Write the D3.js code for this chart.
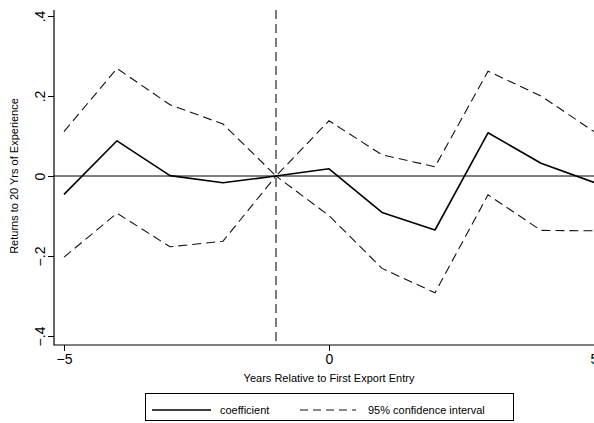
<!DOCTYPE html>
<html>
<head>
<meta charset="utf-8">
<script src="https://cdn.jsdelivr.net/npm/d3@7"></script>
<style>
  html, body { margin: 0; padding: 0; background: #fff; }
  svg { display: block; font-family: "Liberation Sans", Arial, Helvetica, sans-serif; }
</style>
</head>
<body>
<svg id="chart" width="594" height="423"></svg>
<script>
// Event-study estimates: returns to 20 years of experience by year relative to first export entry
const years = [-5, -4, -3, -2, -1, 0, 1, 2, 3, 4, 5];
const coefficient = [-0.046, 0.088, 0.001, -0.017, 0, 0.018, -0.091, -0.135, 0.108, 0.032, -0.016];
const upperCI = [0.111, 0.269, 0.178, 0.130, 0, 0.138, 0.053, 0.023, 0.262, 0.200, 0.111];
const lowerCI = [-0.203, -0.093, -0.177, -0.163, 0, -0.099, -0.231, -0.292, -0.047, -0.136, -0.137];
const xTicks = [-5, 0, 5];
const yTicks = [-0.4, -0.2, 0, 0.2, 0.4];
const yTickLabels = ["\u2212.4", "\u2212.2", "0", ".2", ".4"];
const referenceYear = -1;
const xTitle = "Years Relative to First Export Entry";
const yTitle = "Returns to 20 Yrs of Experience";
const legendItems = [
  { label: "coefficient", dashed: false },
  { label: "95% confidence interval", dashed: true }
];

const svg = d3.select("#chart");

const x = d3.scaleLinear().domain([-5, 5]).range([64, 594]);
const y = d3.scaleLinear().domain([-0.4, 0.4]).range([336, 16]);

const plotLeft = 54, plotTop = 10, plotBottom = 345, plotRight = 594;

// y axis: ticks via d3, labels rotated so they read bottom-to-top
const yAxis = d3.axisLeft(y).tickValues(yTicks).tickSize(6).tickFormat(() => "");
const gy = svg.append("g").attr("transform", `translate(${plotLeft},0)`).call(yAxis);
gy.select(".domain").remove();
gy.selectAll(".tick line").attr("stroke", "#000").attr("stroke-width", 1);
gy.selectAll(".tick").append("text")
  .attr("transform", "translate(-9,0) rotate(-90)")
  .attr("text-anchor", "middle")
  .attr("font-size", 14)
  .attr("fill", "#000")
  .text((d, i) => yTickLabels[i]);

// x axis
const xAxis = d3.axisBottom(x).tickValues(xTicks).tickSize(6).tickPadding(3)
  .tickFormat(d => d < 0 ? "\u2212" + Math.abs(d) : String(d));
const gx = svg.append("g").attr("transform", `translate(0,${plotBottom})`).call(xAxis);
gx.select(".domain").remove();
gx.selectAll(".tick line").attr("stroke", "#000");
gx.selectAll(".tick text").attr("font-size", 14).attr("fill", "#000")
  .attr("font-family", "'Liberation Sans', Arial, sans-serif");

// axis lines
svg.append("line").attr("x1", plotLeft).attr("x2", plotLeft)
  .attr("y1", plotTop).attr("y2", plotBottom + 0.5)
  .attr("stroke", "#000").attr("stroke-width", 1.2);
svg.append("line").attr("x1", plotLeft).attr("x2", plotRight)
  .attr("y1", plotBottom).attr("y2", plotBottom)
  .attr("stroke", "#000").attr("stroke-width", 1.2);

// zero line
svg.append("line").attr("x1", plotLeft).attr("x2", plotRight)
  .attr("y1", y(0)).attr("y2", y(0))
  .attr("stroke", "#000").attr("stroke-width", 1);

// reference line at the year before entry
svg.append("line").attr("x1", x(referenceYear)).attr("x2", x(referenceYear))
  .attr("y1", plotTop).attr("y2", plotBottom)
  .attr("stroke", "#111").attr("stroke-width", 1.1).attr("stroke-dasharray", "9,5");

const line = d3.line().x(d => x(d[0])).y(d => y(d[1]));
const zip = vals => years.map((yr, i) => [yr, vals[i]]);

[upperCI, lowerCI].forEach(vals => {
  svg.append("path").datum(zip(vals)).attr("d", line)
    .attr("fill", "none").attr("stroke", "#111").attr("stroke-width", 1.1)
    .attr("stroke-dasharray", "9,5");
});
svg.append("path").datum(zip(coefficient)).attr("d", line)
  .attr("fill", "none").attr("stroke", "#000").attr("stroke-width", 1.6)
  .attr("stroke-linejoin", "round");

// axis titles
svg.append("text").attr("x", x(0)).attr("y", 382)
  .attr("text-anchor", "middle").attr("font-size", 11).attr("fill", "#000")
  .text(xTitle);
svg.append("text")
  .attr("transform", `translate(18,${y(0)}) rotate(-90)`)
  .attr("text-anchor", "middle").attr("font-size", 11).attr("fill", "#000")
  .text(yTitle);

// legend
const legend = svg.append("g");
legend.append("rect").attr("x", 145.5).attr("y", 393.5).attr("width", 368).attr("height", 27)
  .attr("fill", "#fff").attr("stroke", "#000").attr("stroke-width", 1);
const legendPos = [{ x1: 152, x2: 211, tx: 220 }, { x1: 300, x2: 356, tx: 368 }];
legendItems.forEach((item, i) => {
  const p = legendPos[i];
  legend.append("line").attr("x1", p.x1).attr("x2", p.x2).attr("y1", 410).attr("y2", 410)
    .attr("stroke", item.dashed ? "#111" : "#000")
    .attr("stroke-width", item.dashed ? 1.1 : 1.6)
    .attr("stroke-dasharray", item.dashed ? "8,5" : null);
  legend.append("text").attr("x", p.tx).attr("y", 414).attr("font-size", 11).attr("fill", "#000")
    .text(item.label);
});
</script>
</body>
</html>
